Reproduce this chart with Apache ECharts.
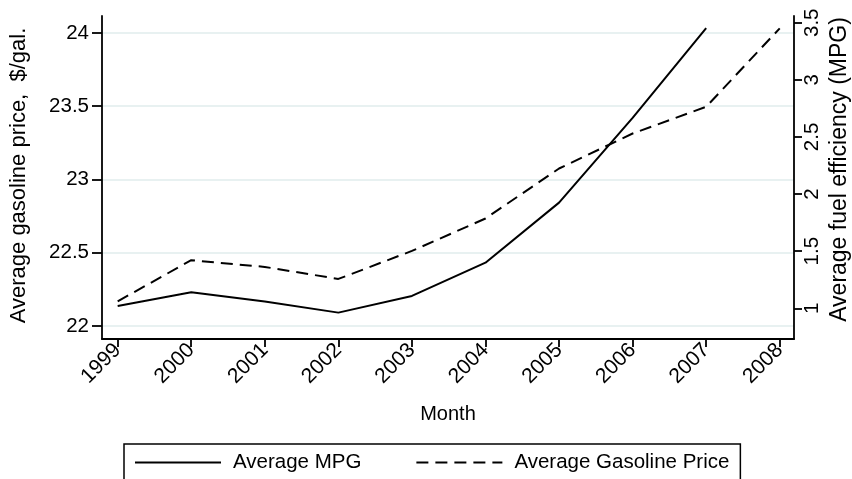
<!DOCTYPE html>
<html>
<head>
<meta charset="utf-8">
<script src="https://cdn.jsdelivr.net/npm/echarts@6/dist/echarts.min.js"></script>
<style>
html,body{margin:0;padding:0;background:#fff;}
#chart{width:852px;height:479px;}
</style>
</head>
<body>
<div id="chart"></div>
<script>
var years = [1999, 2000, 2001, 2002, 2003, 2004, 2005, 2006, 2007, 2008];
var avgMPG = [22.137, 22.230, 22.167, 22.091, 22.205, 22.432, 22.842, 23.42, 24.034, null];
var avgGasPrice = [1.061, 1.421, 1.362, 1.257, 1.502, 1.786, 2.224, 2.53, 2.764, 3.451];
var leftTicks = [22, 22.5, 23, 23.5, 24];
var rightTicks = [1, 1.5, 2, 2.5, 3, 3.5];
var xTicks = years.slice();

var FONT = '"Liberation Sans", Arial, Helvetica, sans-serif';

function pairs(xs, ys) {
  var out = [];
  for (var i = 0; i < xs.length; i++) out.push([xs[i], ys[i]]);
  return out;
}

var chart = echarts.init(document.getElementById('chart'), null, {renderer: 'canvas'});
chart.setOption({
  animation: false,
  backgroundColor: '#ffffff',
  textStyle: {fontFamily: FONT, color: '#000'},
  grid: {left: 102, right: 58, top: 16, bottom: 140, containLabel: false, outerBoundsMode: 'none'},
  legend: {
    left: 124, top: 444,
    padding: [8, 11, 40, 10],
    borderColor: '#000', borderWidth: 1.5, borderRadius: 0,
    itemWidth: 86, itemHeight: 20, itemGap: 54,
    itemStyle: {opacity: 0, borderWidth: 0},
    textStyle: {fontFamily: FONT, fontSize: 20.5, color: '#000', padding: [0, 0, 0, 7]},
    data: ['Average MPG', 'Average Gasoline Price']
  },
  xAxis: {
    type: 'value', min: 1998.787, max: 2008.194,
    name: 'Month', nameLocation: 'middle', nameGap: 65, nameMoveOverlap: false,
    nameTextStyle: {fontFamily: FONT, fontSize: 20, color: '#000'},
    axisLine: {show: true, lineStyle: {color: '#000', width: 1.8}},
    axisTick: {show: true, length: 8, customValues: xTicks, lineStyle: {color: '#000', width: 1.8}},
    axisLabel: {customValues: xTicks, rotate: 45, margin: 8, fontFamily: FONT, fontSize: 21, color: '#000',
      hideOverlap: false, formatter: function (v) { return String(v); }},
    splitLine: {show: false}
  },
  yAxis: [
    {
      type: 'value', position: 'left', min: 21.911, max: 24.116,
      name: 'Average gasoline price,  $/gal.', nameLocation: 'middle', nameGap: 72, nameRotate: 90,
      nameMoveOverlap: false,
      nameTextStyle: {fontFamily: FONT, fontSize: 22, color: '#000', padding: [0, 0, 0, 4]},
      axisLine: {show: true, lineStyle: {color: '#000', width: 1.8}},
      axisTick: {show: true, length: 10, customValues: leftTicks, lineStyle: {color: '#000', width: 1.8}},
      axisLabel: {customValues: leftTicks, margin: 13, fontFamily: FONT, fontSize: 20.5, color: '#000'},
      splitLine: {show: true, lineStyle: {color: '#e8f1f1', width: 2}}
    },
    {
      type: 'value', position: 'right', min: 0.731, max: 3.559,
      name: 'Average fuel efficiency (MPG)', nameLocation: 'middle', nameGap: 34, nameRotate: 90,
      nameMoveOverlap: false,
      nameTextStyle: {fontFamily: FONT, fontSize: 23, color: '#000', padding: [0, 0, 0, 16]},
      axisLine: {show: true, lineStyle: {color: '#000', width: 1.8}},
      axisTick: {show: true, length: 8, customValues: rightTicks, lineStyle: {color: '#000', width: 1.8}},
      axisLabel: {customValues: rightTicks, rotate: 90, margin: 8, fontFamily: FONT, fontSize: 20.5, color: '#000'},
      splitLine: {show: false}
    }
  ],
  series: [
    {
      name: 'Average MPG', type: 'line', yAxisIndex: 0,
      data: pairs(years, avgMPG), showSymbol: false, symbol: 'none',
      lineStyle: {color: '#000', width: 2, type: 'solid'},
      itemStyle: {color: '#000'}
    },
    {
      name: 'Average Gasoline Price', type: 'line', yAxisIndex: 1,
      data: pairs(years, avgGasPrice), showSymbol: false, symbol: 'none',
      lineStyle: {color: '#000', width: 2, type: [12, 7]},
      itemStyle: {color: '#000'}
    }
  ]
});
</script>
</body>
</html>
